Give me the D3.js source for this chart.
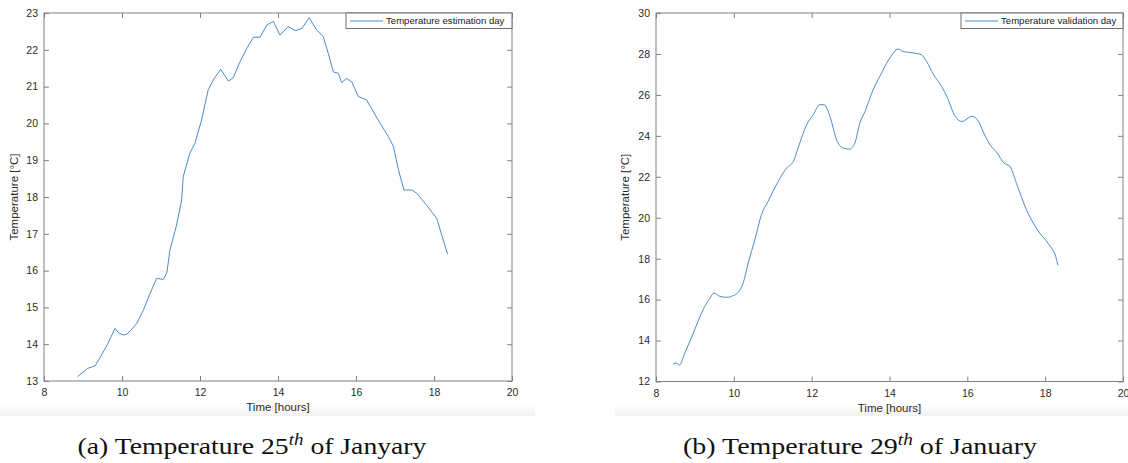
<!DOCTYPE html>
<html>
<head>
<meta charset="utf-8">
<script src="https://cdn.jsdelivr.net/npm/d3@7/dist/d3.min.js"></script>
<style>
  body { margin: 0; background: #fff; }
  svg { display: block; }
  .tick text { font-family: "Liberation Sans", Arial, sans-serif; font-size: 10.5px; fill: #2b2b2b; }
</style>
</head>
<body>
<svg id="chart" width="1128" height="463"></svg>
<script>
// 25th of January (estimation day)
var estHours = [8.86, 9.05, 9.11, 9.31, 9.44, 9.63, 9.82, 9.92, 10.03, 10.12, 10.25, 10.38, 10.55, 10.72, 10.89, 11.06, 11.15, 11.23, 11.40, 11.53, 11.57, 11.74, 11.87, 12.04, 12.21, 12.34, 12.53, 12.73, 12.85, 13.03, 13.20, 13.37, 13.54, 13.71, 13.88, 14.05, 14.26, 14.44, 14.61, 14.80, 14.99, 15.16, 15.29, 15.42, 15.55, 15.63, 15.76, 15.89, 16.06, 16.27, 16.57, 16.83, 16.96, 17.09, 17.23, 17.43, 17.56, 17.77, 18.07, 18.35];
var estTemp = [13.12, 13.28, 13.34, 13.41, 13.64, 14.00, 14.43, 14.30, 14.25, 14.27, 14.40, 14.57, 14.93, 15.38, 15.79, 15.76, 15.94, 16.56, 17.24, 17.92, 18.55, 19.19, 19.46, 20.09, 20.91, 21.18, 21.47, 21.15, 21.24, 21.68, 22.04, 22.34, 22.34, 22.67, 22.77, 22.40, 22.63, 22.52, 22.58, 22.87, 22.54, 22.36, 21.90, 21.40, 21.36, 21.11, 21.22, 21.13, 20.73, 20.64, 20.09, 19.64, 19.37, 18.73, 18.19, 18.19, 18.10, 17.83, 17.42, 16.44];

// 29th of January (validation day)
var valHours = [8.44, 8.53, 8.60, 8.74, 8.96, 9.21, 9.39, 9.49, 9.64, 9.82, 9.98, 10.11, 10.24, 10.37, 10.54, 10.71, 10.88, 11.14, 11.36, 11.53, 11.65, 11.87, 12.04, 12.21, 12.32, 12.47, 12.64, 12.81, 12.98, 13.11, 13.24, 13.37, 13.58, 13.75, 14.01, 14.22, 14.35, 14.61, 14.82, 14.95, 15.13, 15.34, 15.47, 15.69, 15.86, 16.12, 16.29, 16.42, 16.60, 16.77, 16.94, 17.08, 17.29, 17.50, 17.80, 18.10, 18.27, 18.33];
var valTemp = [12.85, 12.90, 12.80, 13.39, 14.37, 15.51, 16.08, 16.32, 16.16, 16.11, 16.19, 16.35, 16.81, 17.79, 18.93, 20.15, 20.80, 21.77, 22.43, 22.75, 23.40, 24.54, 25.03, 25.52, 25.52, 24.95, 23.81, 23.40, 23.35, 23.65, 24.63, 25.19, 26.25, 26.90, 27.80, 28.24, 28.12, 28.05, 27.96, 27.64, 26.99, 26.41, 25.93, 24.95, 24.70, 24.95, 24.70, 24.14, 23.52, 23.16, 22.67, 22.54, 21.53, 20.47, 19.41, 18.68, 18.11, 17.67];

var xTicks = [8, 10, 12, 14, 16, 18, 20];
var estYTicks = [13, 14, 15, 16, 17, 18, 19, 20, 21, 22, 23];
var valYTicks = [12, 14, 16, 18, 20, 22, 24, 26, 28, 30];

var lineColor = "#4a8ccc";
var axisColor = "#808080";
var textColor = "#2b2b2b";
var svg = d3.select("#chart");

// faint bottom edge of the two embedded figures
var defs = svg.append("defs");
var grad = defs.append("linearGradient").attr("id", "edge").attr("x1", 0).attr("x2", 0).attr("y1", 0).attr("y2", 1);
grad.append("stop").attr("offset", "0%").attr("stop-color", "#ffffff");
grad.append("stop").attr("offset", "100%").attr("stop-color", "#f1f1f1");
svg.append("rect").attr("x", 0).attr("y", 404).attr("width", 535).attr("height", 12).attr("fill", "url(#edge)");
svg.append("rect").attr("x", 615).attr("y", 404).attr("width", 513).attr("height", 12).attr("fill", "url(#edge)");

function drawPanel(opt) {
  var w = opt.right - opt.left, h = opt.bottom - opt.top;
  var g = svg.append("g").attr("transform", "translate(" + opt.left + "," + opt.top + ")");

  var x = d3.scaleLinear().domain([8, 20]).range([0, w]);
  var y = d3.scaleLinear().domain(opt.yDomain).range([h, 0]);

  var tick = 5;
  var styleAxis = function(sel) {
    sel.select(".domain").remove();
    sel.selectAll(".tick line").attr("stroke", axisColor);
  };

  g.append("g").attr("transform", "translate(0," + h + ")")
    .call(d3.axisBottom(x).tickValues(xTicks).tickFormat(d3.format("d")).tickSizeInner(-tick).tickSizeOuter(0).tickPadding(8))
    .call(styleAxis);
  g.append("g")
    .call(d3.axisTop(x).tickValues(xTicks).tickFormat("").tickSizeInner(-tick).tickSizeOuter(0))
    .call(styleAxis);
  g.append("g")
    .call(d3.axisLeft(y).tickValues(opt.yTicks).tickFormat(d3.format("d")).tickSizeInner(-tick).tickSizeOuter(0).tickPadding(6))
    .call(styleAxis);
  g.append("g").attr("transform", "translate(" + w + ",0)")
    .call(d3.axisRight(y).tickValues(opt.yTicks).tickFormat("").tickSizeInner(-tick).tickSizeOuter(0))
    .call(styleAxis);

  g.append("rect").attr("width", w).attr("height", h)
    .attr("fill", "none").attr("stroke", axisColor).attr("stroke-width", 1);

  var pts = opt.hours.map(function(d, i) { return [d, opt.temps[i]]; });
  var line = d3.line()
    .x(function(d) { return x(d[0]); })
    .y(function(d) { return y(d[1]); })
    .curve(opt.curve);
  g.append("path").datum(pts)
    .attr("d", line)
    .attr("fill", "none")
    .attr("stroke", lineColor)
    .attr("stroke-width", 1);

  // axis titles
  g.append("text")
    .attr("x", w / 2).attr("y", h + 30)
    .attr("text-anchor", "middle")
    .style("font-family", "Liberation Sans, Arial, sans-serif")
    .style("font-size", "11.5px").style("fill", textColor)
    .text("Time [hours]");
  g.append("text")
    .attr("transform", "translate(" + opt.yTitleX + "," + (h / 2) + ") rotate(-90)")
    .attr("text-anchor", "middle")
    .style("font-family", "Liberation Sans, Arial, sans-serif")
    .style("font-size", "11.5px").style("fill", textColor)
    .text("Temperature [°C]");

  // legend
  var lg = g.append("g").attr("transform", "translate(" + (w - opt.legendW) + ",0)");
  lg.append("rect").attr("width", opt.legendW).attr("height", 15.5)
    .attr("fill", "#fff").attr("stroke", "#6f6f6f").attr("stroke-width", 1);
  lg.append("line").attr("x1", 4).attr("x2", 37).attr("y1", 8).attr("y2", 8)
    .attr("stroke", lineColor).attr("stroke-width", 1);
  lg.append("text").attr("x", 40).attr("y", 11.3)
    .style("font-family", "Liberation Sans, Arial, sans-serif")
    .style("font-size", "9.6px").style("fill", "#1a1a1a")
    .text(opt.legend);

  // caption
  var cap = svg.append("text")
    .attr("x", opt.capX).attr("y", 454)
    .attr("text-anchor", "middle")
    .style("font-family", "Liberation Serif, Times New Roman, serif")
    .style("font-size", "24px").style("fill", "#111");
  cap.append("tspan").text(opt.capA);
  cap.append("tspan").attr("dy", -9).style("font-size", "16.5px").style("font-style", "italic").text("th");
  cap.append("tspan").attr("dy", 9).text(" " + opt.capB);
  var cw = cap.node().getComputedTextLength();
  var s = opt.capW / cw;
  cap.attr("transform", "translate(" + opt.capX + ",0) scale(" + s + ",1) translate(" + (-opt.capX) + ",0)");
}

drawPanel({
  left: 44, right: 512, top: 13, bottom: 381,
  yDomain: [13, 23], yTicks: estYTicks,
  hours: estHours, temps: estTemp, curve: d3.curveLinear,
  yTitleX: -26, legendW: 166, legend: "Temperature estimation day",
  capX: 252, capW: 349, capA: "(a) Temperature 25", capB: "of Janyary"
});

drawPanel({
  left: 656, right: 1123, top: 13, bottom: 381.5,
  yDomain: [12, 30], yTicks: valYTicks,
  hours: valHours, temps: valTemp, curve: d3.curveMonotoneX,
  yTitleX: -27, legendW: 162, legend: "Temperature validation day",
  capX: 860, capW: 354, capA: "(b) Temperature 29", capB: "of January"
});
</script>
</body>
</html>
